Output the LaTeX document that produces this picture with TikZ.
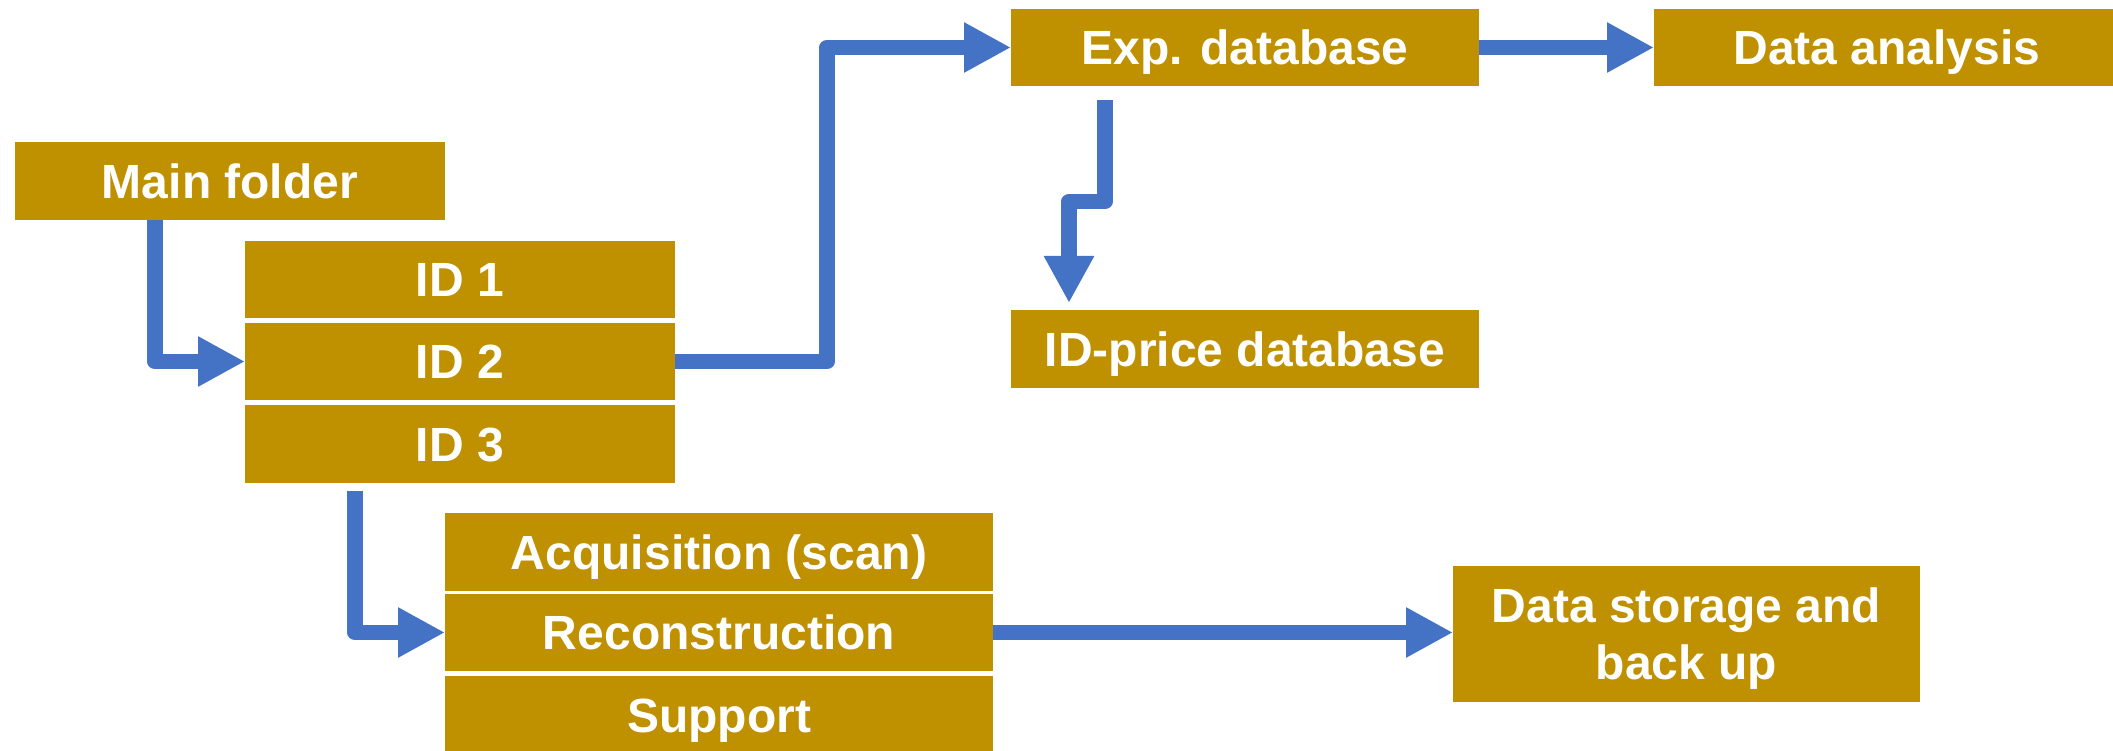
\documentclass[tikz,border=0pt]{standalone}
\usepackage{fontspec}
\setmainfont{Liberation Sans}
\usetikzlibrary{arrows.meta,calc}
\definecolor{boxgold}{HTML}{BF9000}
\definecolor{arrowblue}{HTML}{4472C4}
\begin{document}
\begin{tikzpicture}[x=1pt,y=-1pt,
  box/.style={fill=boxgold,draw=none,inner sep=0pt,outer sep=0pt,text=white,
    font=\fontsize{48}{57}\selectfont\bfseries,text depth=0pt,align=center},
  onel/.style={box,text height=34.5pt},
  conn/.style={draw=arrowblue,line width=15.5pt,line join=round,
    -{Triangle[length=47pt,width=47pt]}}]
\useasboundingbox (0,0) rectangle (2113,751);
\node[onel,minimum width=430pt,minimum height=78pt] (main) at (230,181) {Main folder};
\node[onel,minimum width=430pt,minimum height=77pt] (id1) at (460,279.5) {ID 1};
\node[onel,minimum width=430pt,minimum height=77pt] (id2) at (460,361.5) {ID 2};
\node[onel,minimum width=430pt,minimum height=78pt] (id3) at (460,444) {ID 3};
\node[onel,minimum width=468pt,minimum height=77pt] (exp) at (1245,47.5) {Exp. database};
\node[onel,minimum width=466pt,minimum height=77pt] (ana) at (1887,47.5) {Data analysis};
\node[onel,minimum width=468pt,minimum height=78pt] (price) at (1245,349) {ID-price database};
\node[onel,minimum width=548pt,minimum height=78pt] (acq) at (719,552) {Acquisition (scan)};
\node[onel,minimum width=548pt,minimum height=77pt] (rec) at (719,632.5) {Reconstruction};
\node[onel,minimum width=548pt,minimum height=78pt] (sup) at (719,715) {Support};
\node[box,minimum width=467pt,minimum height=136pt] (store) at (1686.5,634) {Data storage and\\back up};
% connectors
\draw[conn] ([xshift=-75pt]main.south) |- (id2.west);
\coordinate (j2) at (827,200);
\draw[conn] (id2.east) -- (id2.east -| j2) -- (exp.west -| j2) -- (exp.west);
\draw[conn] (exp.east) -- (ana.west);
\coordinate (e4s) at ([xshift=-140pt,yshift=-14pt]exp.south);
\coordinate (e4e) at ([xshift=-176pt,yshift=7pt]price.north);
\draw[conn] (e4s) -- ($(e4s)!0.5!(e4s|-e4e)$) -| (e4e);
\coordinate (e5s) at ([xshift=-105pt,yshift=-8pt]id3.south);
\draw[conn] (e5s) |- (rec.west);
\draw[conn] (rec.east) -- (rec.east -| store.west);
\end{tikzpicture}
\end{document}
